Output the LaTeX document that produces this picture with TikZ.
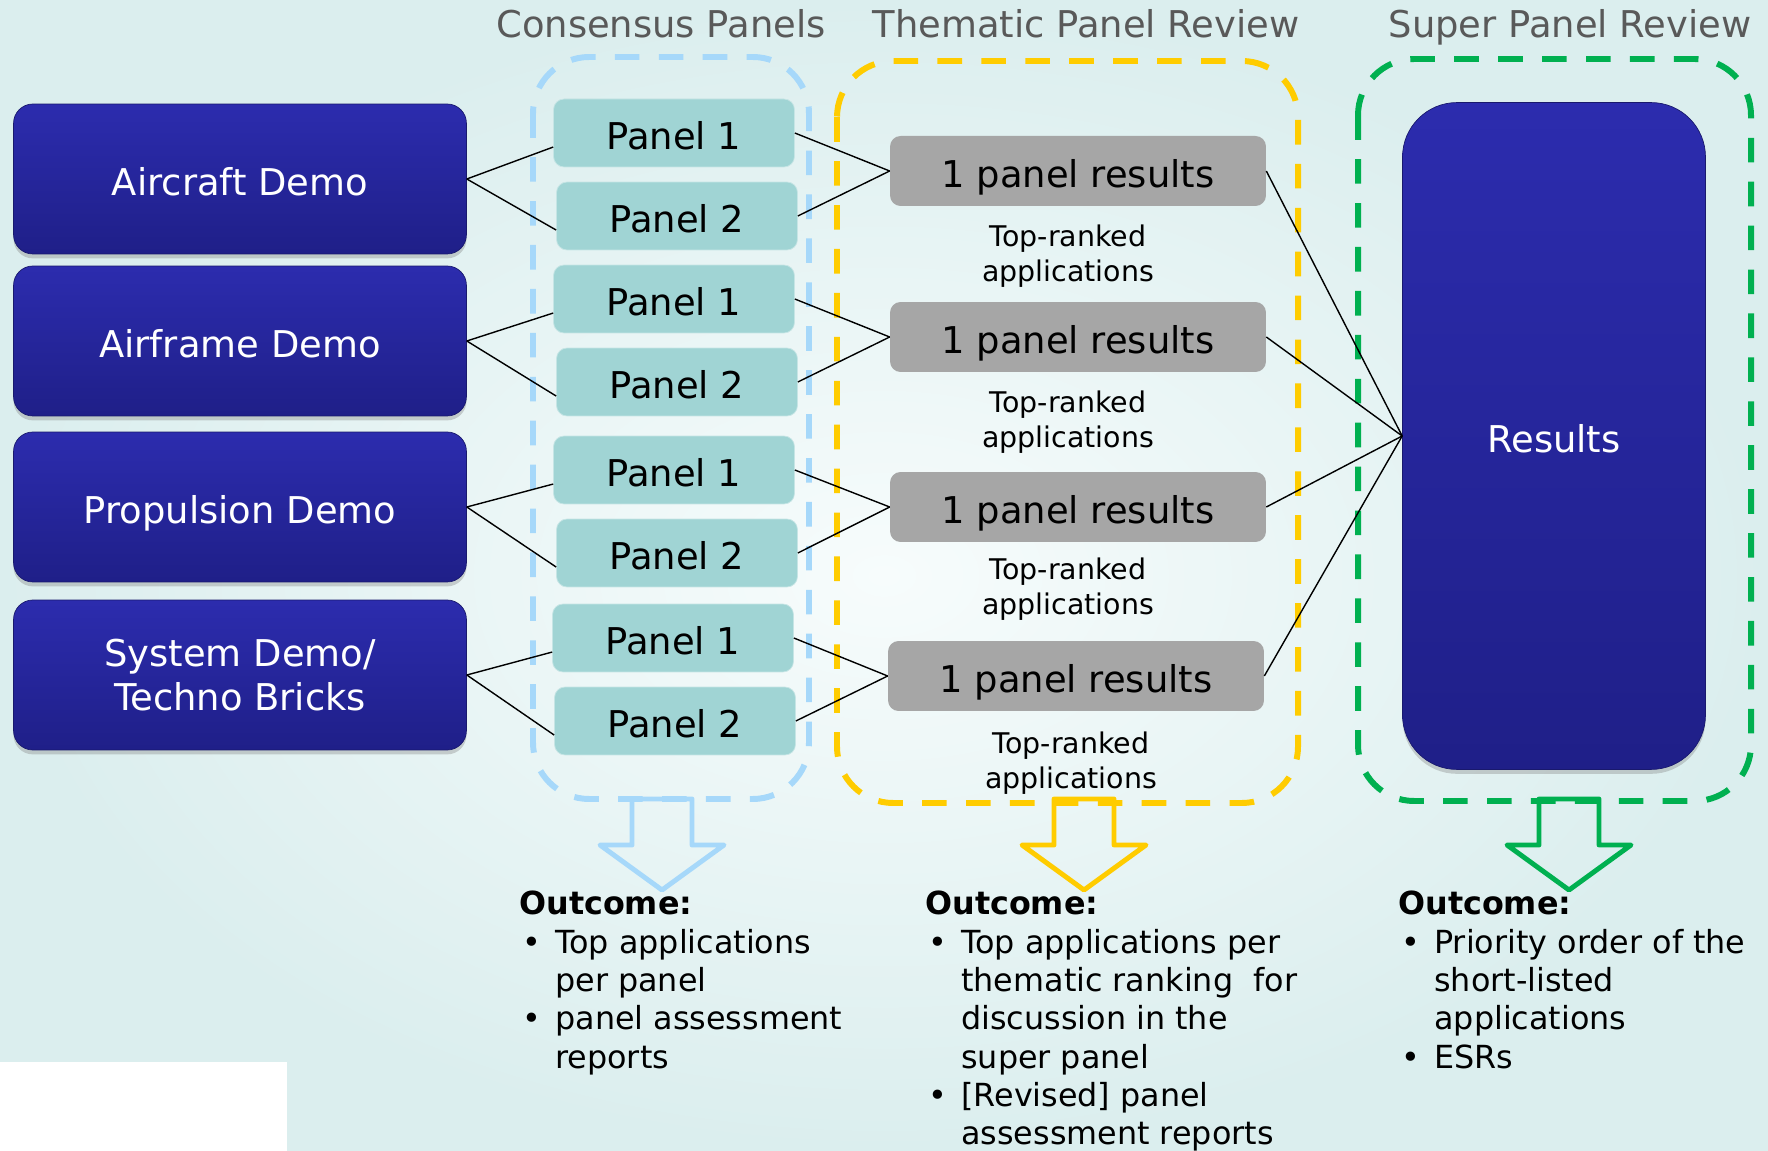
\documentclass[tikz,border=0pt]{standalone}
\usepackage{fontspec}
\setmainfont{DejaVu Sans}
\usetikzlibrary{shadows}
\definecolor{demotop}{RGB}{44,44,174}
\definecolor{demobot}{RGB}{31,31,136}
\definecolor{panelteal}{RGB}{160,212,212}
\definecolor{resgrey}{RGB}{166,166,166}
\definecolor{titlegrey}{RGB}{89,89,89}
\definecolor{cpblue}{RGB}{166,216,250}
\definecolor{tpyellow}{RGB}{255,204,0}
\definecolor{spgreen}{RGB}{0,176,80}
\definecolor{bgouter}{RGB}{219,238,238}
\definecolor{bginner}{RGB}{247,252,252}
\newcommand{\outb}{\makebox[0.72cm][l]{\hspace{2pt}\textbullet}}
\newcommand{\outi}{\hspace*{0.72cm}}
\tikzstyle{bigtext} = [font={\fontsize{21pt}{25pt}\selectfont}]
\tikzstyle{demo} = [bigtext, text=white, align=center, rounded corners=11pt, top color=demotop, bottom color=demobot, draw=demobot!80!black, minimum width=9.06cm, minimum height=3cm, text height=18.5pt, text depth=0pt, drop shadow={shadow xshift=0pt, shadow yshift=-2.5pt, opacity=0.35}]
\tikzstyle{panel} = [bigtext, fill=panelteal, draw=panelteal!60!white, rounded corners=6pt, minimum width=4.82cm, minimum height=1.36cm, text height=18.5pt, text depth=0pt]
\tikzstyle{res} = [bigtext, fill=resgrey, rounded corners=6pt, minimum width=7.52cm, minimum height=1.4cm, text height=18.5pt, text depth=0pt]
\tikzstyle{topr} = [align=center, font={\fontsize{16.2pt}{19.8pt}\selectfont}]
\tikzstyle{heading} = [bigtext, text=titlegrey, anchor=base]
\tikzstyle{panframe} = [line width=3.4pt, dash pattern=on 14pt off 11pt, rounded corners=32pt]
\tikzstyle{link} = [black, line width=0.8pt]
\tikzstyle{outcome} = [anchor=north west, align=left, inner sep=0pt, font={\fontsize{18.1pt}{21.8pt}\selectfont}]

\begin{document}
\begin{tikzpicture}[x=0.02cm, y=-0.02cm]
    \useasboundingbox (0,0) rectangle (1768,1151);
    \shade[inner color=bginner, outer color=bgouter] (0,0) rectangle (1768,1151);
    \fill[white] (0,1062) rectangle (287,1151);
    \node[heading](h1) at (661,38){Consensus Panels};
    \node[heading](h2) at (1086,38){Thematic Panel Review};
    \node[heading](h3) at (1570,38){Super Panel Review};
    \draw[panframe,cpblue] (533,57) rectangle (809,799);
    \draw[panframe,tpyellow] (837,61) rectangle (1298,803);
    \draw[panframe,spgreen] (1358,59) rectangle (1751,801);
    \foreach \cx/\col in {662/cpblue,1084/tpyellow,1569/spgreen}
      \draw[\col, line width=2.8pt, line join=round] ({\cx-30},799) -- ({\cx-30},845) -- ({\cx-62},845)
        -- (\cx,890) -- ({\cx+62},845) -- ({\cx+30},845) -- ({\cx+30},799) -- cycle;
    \node[demo](ad) at (240,179){Aircraft Demo};
    \node[demo](af) at (240,341){Airframe Demo};
    \node[demo](pd) at (240,507){Propulsion Demo};
    \node[demo, text height=, text depth=](sd) at (240,675){System Demo/\\Techno Bricks};
    \node[panel](a1) at (674,133){Panel 1};
    \node[panel](a2) at (677,216){Panel 2};
    \node[panel](f1) at (674,299){Panel 1};
    \node[panel](f2) at (677,382){Panel 2};
    \node[panel](p1) at (674,470){Panel 1};
    \node[panel](p2) at (677,553){Panel 2};
    \node[panel](s1) at (673,638){Panel 1};
    \node[panel](s2) at (675,721){Panel 2};
    \node[res](r1) at (1078,171){1 panel results};
    \node[res](r2) at (1078,337){1 panel results};
    \node[res](r3) at (1078,507){1 panel results};
    \node[res](r4) at (1076,676){1 panel results};
    \node[topr](tr1) at (1068,256){Top-ranked\\applications};
    \node[topr](tr2) at (1068,422){Top-ranked\\applications};
    \node[topr](tr3) at (1068,589){Top-ranked\\applications};
    \node[topr](tr4) at (1071,763){Top-ranked\\applications};
    \node[demo, minimum width=6.06cm, minimum height=13.34cm, rounded corners=31pt](res) at (1554,436){Results};
    \draw[link](ad.east)--([yshift=-8pt]a1.west);
    \draw[link](ad.east)--([yshift=-8pt]a2.west);
    \draw[link](af.east)--([yshift=-8pt]f1.west);
    \draw[link](af.east)--([yshift=-8pt]f2.west);
    \draw[link](pd.east)--([yshift=-8pt]p1.west);
    \draw[link](pd.east)--([yshift=-8pt]p2.west);
    \draw[link](sd.east)--([yshift=-8pt]s1.west);
    \draw[link](sd.east)--([yshift=-8pt]s2.west);
    \draw[link](a1.east)--(r1.west);
    \draw[link](a2.east)--(r1.west);
    \draw[link](f1.east)--(r2.west);
    \draw[link](f2.east)--(r2.west);
    \draw[link](p1.east)--(r3.west);
    \draw[link](p2.east)--(r3.west);
    \draw[link](s1.east)--(r4.west);
    \draw[link](s2.east)--(r4.west);
    \draw[link](r1.east)--(res.west);
    \draw[link](r2.east)--(res.west);
    \draw[link](r3.east)--(res.west);
    \draw[link](r4.east)--(res.west);
    \node[outcome](oc1) at (519,891){\textbf{Outcome:}\\\outb Top applications\\\outi per panel\\\outb panel assessment\\\outi reports};
    \node[outcome](oc2) at (925,891){\textbf{Outcome:}\\\outb Top applications per\\\outi thematic ranking~ for\\\outi discussion in the\\\outi super panel\\\outb [Revised] panel\\\outi assessment reports};
    \node[outcome](oc3) at (1398,891){\textbf{Outcome:}\\\outb Priority order of the\\\outi short-listed\\\outi applications\\\outb ESRs};
  \end{tikzpicture}
\end{document}
